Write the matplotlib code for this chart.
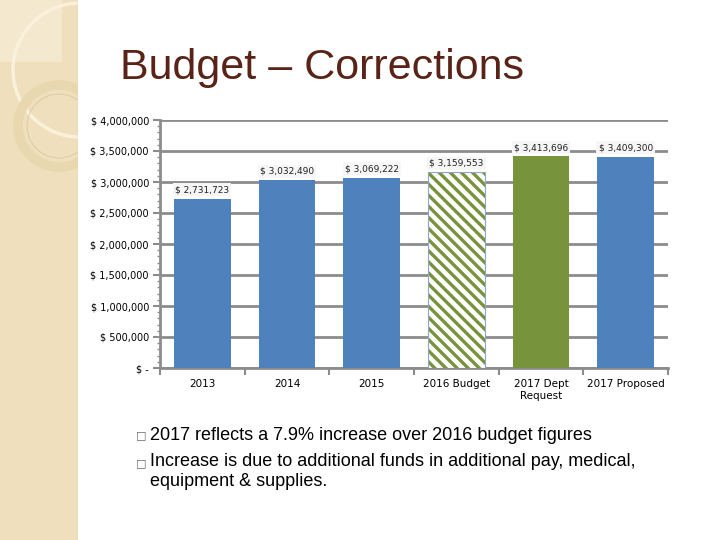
import matplotlib.pyplot as plt
import matplotlib.patches as mpatches
from matplotlib.ticker import FuncFormatter, MultipleLocator

# data
categories = ['2013', '2014', '2015', '2016 Budget', '2017 Dept\nRequest', '2017 Proposed']
values = [2731723, 3032490, 3069222, 3159553, 3413696, 3409300]
bar_colors = ['#4f81bd', '#4f81bd', '#4f81bd', 'white', '#77933c', '#4f81bd']
hatches = [None, None, None, '\\\\\\', None, None]

bullets = ['2017 reflects a 7.9% increase over 2016 budget figures',
           'Increase is due to additional funds in additional pay, medical,\nequipment & supplies.']

plt.rcParams['hatch.linewidth'] = 2.4

fig = plt.figure(figsize=(7.2, 5.4), dpi=100)
fig.patch.set_facecolor('white')

# beige strip on the left with decorative circles
bg = fig.add_axes([0, 0, 78 / 720, 1])
bg.set_facecolor('#efdfbd')
bg.set_xlim(0, 78)
bg.set_ylim(540, 0)
bg.set_xticks([])
bg.set_yticks([])
for s in bg.spines.values():
    s.set_visible(False)
bg.add_patch(mpatches.Rectangle((0, 0), 62, 62, fc='#f4e8cf', ec='none'))
bg.add_patch(mpatches.Ellipse((80, 70), 134, 134, fill=False, ec='#faf1dc', lw=2.5))
bg.add_patch(mpatches.Ellipse((59, 126), 82, 82, fill=False, ec='#e9d7b0', lw=7))
bg.add_patch(mpatches.Ellipse((59, 126), 64, 64, fill=False, ec='#dcc79c', lw=0.6))
bg.axvline(77.5, color='#e0cfaa', lw=1)

fig.text(120 / 720, 1 - 68 / 540, 'Budget – Corrections', fontsize=31,
         family='Liberation Sans', color='#5a2318', va='center', ha='left')

ax = fig.add_axes([160 / 720, 1 - 368 / 540, 508 / 720, 248 / 540])
x = range(len(categories))
for i in x:
    if hatches[i]:
        ax.bar(i, values[i], width=0.67, color='white', hatch=hatches[i],
               edgecolor='#77933c', lw=0, zorder=3)
        ax.bar(i, values[i], width=0.67, fill=False, edgecolor='#8ea6c8', lw=0.8, zorder=3)
    else:
        ax.bar(i, values[i], width=0.67, color=bar_colors[i], zorder=3)
    ax.text(i, values[i] + 70000, '$ ' + format(values[i], ','), ha='center', va='bottom',
            fontsize=6.5, family='DejaVu Sans', color='#222222', zorder=4,
            bbox=dict(fc='#f6f6f6', ec='none', pad=1.5))

ax.set_ylim(0, 4000000)
ax.set_xlim(-0.5, len(categories) - 0.5)
ax.yaxis.set_major_locator(MultipleLocator(500000))
ax.yaxis.set_minor_locator(MultipleLocator(100000))
ax.yaxis.set_major_formatter(FuncFormatter(lambda v, p: '$ -' if v == 0 else '$ ' + format(int(v), ',')))
ax.grid(axis='y', color='#8c8c8c', lw=2, zorder=0)
ax.set_axisbelow(True)
for s in ['top', 'right']:
    ax.spines[s].set_visible(False)
for s in ['left', 'bottom']:
    ax.spines[s].set_color('#8c8c8c')
    ax.spines[s].set_linewidth(2)
ax.tick_params(axis='y', which='major', labelsize=7, length=5, color='#8c8c8c', width=1.5, pad=3)
ax.tick_params(axis='y', which='minor', length=2, color='#8c8c8c', width=1)
ax.set_xticks([i + 0.5 for i in range(-1, len(categories))], minor=True)
ax.set_xticks(list(x))
ax.set_xticklabels(categories, fontsize=7.5)
ax.tick_params(axis='x', which='major', length=0, pad=8)
ax.tick_params(axis='x', which='minor', length=5, color='#8c8c8c', width=1.5)

ys = [1 - 435 / 540, 1 - 463 / 540]
for y in ys:
    fig.text(136 / 720, y, '□', fontsize=8, color='#666666', va='center', family='DejaVu Sans')
fig.text(150 / 720, ys[0], bullets[0], fontsize=13, family='Liberation Sans', va='center')
fig.text(150 / 720, ys[1] + 10 / 540, bullets[1], fontsize=13, family='Liberation Sans', va='top',
         linespacing=1.2)

fig.savefig('out.png', dpi=100)
